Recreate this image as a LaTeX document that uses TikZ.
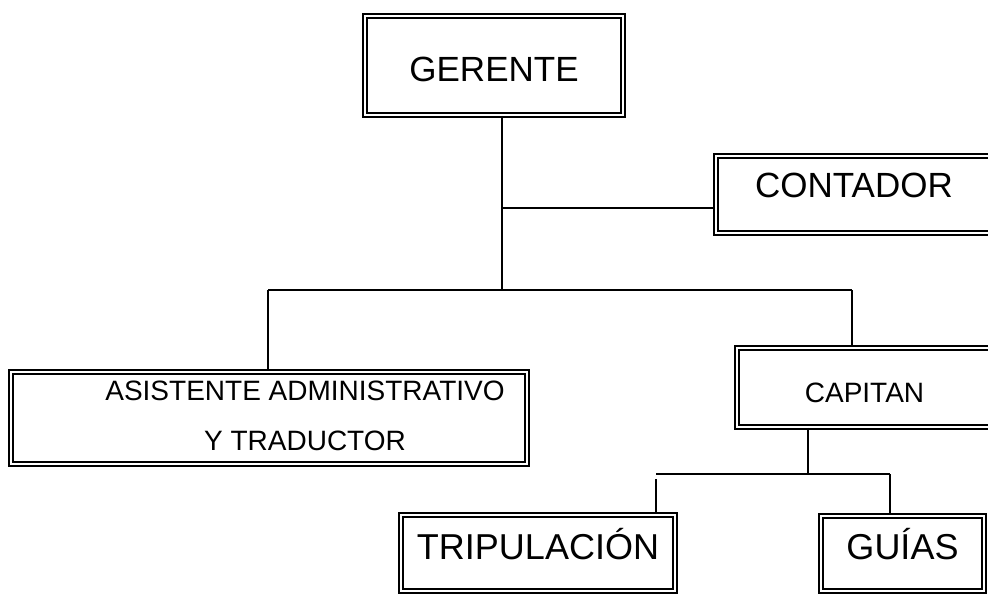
\documentclass[tikz,border=0pt]{standalone}
\usepackage{fontspec}
\setmainfont{Liberation Sans}
\usepackage{tikz}
\usetikzlibrary{positioning}
\tikzstyle{line} = [line width=1.6pt,color=black]
\tikzstyle{orgbox} = [rectangle, draw=black, line width=1.7pt, double, double distance=2.2pt, inner sep=0pt, text centered]
\tikzstyle{bigtext} = [font=\fontsize{35}{42}\selectfont]
\tikzstyle{smalltext} = [font=\fontsize{28}{50}\selectfont]

\begin{document}
\begin{tikzpicture}[x=1pt, y=-1pt]
\useasboundingbox (0,0) rectangle (988,596);
% Boxes of the chart
\node (gerente) [orgbox, bigtext, minimum width=258.2pt, minimum height=99.2pt, text height=33pt, text depth=0pt] at (494,65.5) {GERENTE};
\node (contador) [orgbox, bigtext, minimum width=276.2pt, minimum height=77.2pt, text height=25pt, text depth=18pt] at (854,194.5) {CONTADOR};
\node (asistente) [orgbox, minimum width=516.2pt, minimum height=92.2pt] at (269,418) {};
\node (asistentetxt) [smalltext, align=center] at (305,415.5) {ASISTENTE ADMINISTRATIVO\\Y TRADUCTOR};
\node (capitan) [orgbox, smalltext, minimum width=255.2pt, minimum height=79.2pt, text height=29pt, text depth=0pt] at (864.5,387.5) {CAPITAN};
\node (tripulacion) [orgbox, font=\fontsize{36}{42}\selectfont, minimum width=274.2pt, minimum height=76.2pt, text height=32pt, text depth=19pt] at (538,553) {TRIPULACIÓN};
\node (guias) [orgbox, font=\fontsize{36}{42}\selectfont, minimum width=163.2pt, minimum height=75.2pt, text height=32pt, text depth=20pt] at (902.5,553.5) {GUÍAS};

% Junction points
\coordinate (trunk) at (502,290);
\coordinate (side) at (502,208);
\coordinate (left) at (268,290);
\coordinate (right) at (852,290);
\coordinate (capdown) at (808,474);
\coordinate (tripup) at (656,474);
\coordinate (guiup) at (890,474);

\draw[line] (gerente.south -| trunk) -- (trunk);
\draw[line] (side) -- (side -| contador.west);
\draw[line] (left) -- (right);
\draw[line] (left) -- ([yshift=2pt]left |- asistente.north);
\draw[line] (right) -- (right |- capitan.north);
\draw[line] (capdown |- capitan.south) -- (capdown);
\draw[line] (tripup) -- (guiup);
\draw[line] ([yshift=-5pt]tripup) -- (tripup |- tripulacion.north);
\draw[line] (guiup) -- (guiup |- guias.north);
\end{tikzpicture}
\end{document}
